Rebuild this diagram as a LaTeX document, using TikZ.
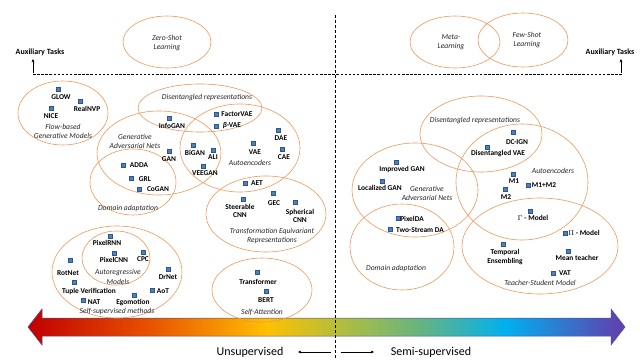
\documentclass[tikz,border=0pt]{standalone}
\usepackage{fontspec}
\setmainfont{Carlito}
\usetikzlibrary{arrows.meta}
\definecolor{ell}{RGB}{240,150,90}
\definecolor{sqf}{RGB}{79,129,189}
\definecolor{sqd}{RGB}{45,85,145}
\definecolor{ca}{RGB}{192,0,0}
\definecolor{cb}{RGB}{232,80,0}
\definecolor{cc}{RGB}{255,192,0}
\definecolor{cd}{RGB}{180,190,60}
\definecolor{ce}{RGB}{100,180,130}
\definecolor{cf}{RGB}{0,176,240}
\definecolor{cg}{RGB}{100,60,170}
\pgfdeclarehorizontalshading{rainbowbar}{100bp}{color(0bp)=(ca); color(25bp)=(ca); color(35bp)=(cb); color(45bp)=(cc); color(51bp)=(cd); color(58bp)=(ce); color(65bp)=(cf); color(75bp)=(cg); color(100bp)=(cg)}
\tikzset{
  grp/.style={draw=ell, line width=0.6pt},
  sq/.style={rectangle, draw=sqd, fill=sqf, line width=0.3pt, minimum size=4.6pt, inner sep=0pt},
  lbl/.style={font=\fontsize{7.4}{8.2}\selectfont\bfseries, inner sep=0pt, align=center},
  grpcap/.style={font=\fontsize{7.6}{9.2}\selectfont\itshape, inner sep=0pt, align=center, text=black!85},
  bigtxt/.style={font=\fontsize{12}{14}\selectfont, inner sep=0pt},
  auxtxt/.style={font=\fontsize{8}{9}\selectfont\bfseries, inner sep=0pt},
  dsh/.style={line width=0.6pt, dash pattern=on 2.5pt off 1.6pt},
  tip/.style={line width=0.45pt, -{Stealth[length=3.4pt,width=3pt]}},
}
\begin{document}
\begin{tikzpicture}[x=1pt,y=-1pt]
\useasboundingbox (0,0) rectangle (640,359);

% ---------- gradient arrow ----------
\shade[shading=rainbowbar, draw=black!60!blue!70, line width=0.5pt]
  (28,327) -- (42,309) -- (42,318) -- (611,318) -- (611,309) -- (625,327)
  -- (611,345) -- (611,336) -- (42,336) -- (42,345) -- cycle;

% ---------- dashed axes ----------
\coordinate (hl) at (33,74);
\coordinate (hr) at (622,74);
\draw[dsh] (hl) -- (hr);
\coordinate (vt) at (335,15);
\coordinate (vb) at (335,359);
\draw[line width=0.8pt, dash pattern=on 3pt off 2pt] (vt) -- (vb);

\node[auxtxt] (auxL) at (40,52) {Auxiliary Tasks};
\coordinate (auxLb) at (33,73);
\coordinate (auxLt) at (33,59);
\draw[tip] (auxLb) -- (auxLt);
\node[auxtxt] (auxR) at (610,52) {Auxiliary Tasks};
\coordinate (auxRb) at (621,73);
\coordinate (auxRt) at (621,59);
\draw[tip] (auxRb) -- (auxRt);

% ---------- top ellipses ----------
\draw[grp] (167,42) ellipse [x radius=44, y radius=26];
\node[grpcap] (zsl) at (167,43) {Zero-Shot\\Learning};
\draw[grp] (455,42) ellipse [x radius=45, y radius=26];
\draw[grp] (523,40) ellipse [x radius=45, y radius=27];
\node[grpcap] (meta) at (451,42) {Meta-\\Learning};
\node[grpcap] (fsl) at (527,40) {Few-Shot\\Learning};

% ---------- left: ellipses ----------
\draw[grp] (63,113) ellipse [x radius=45, y radius=32];
\draw[grp] (200,108) ellipse [x radius=62, y radius=24];
\draw[grp] (159,153) ellipse [x radius=62, y radius=42];
\draw[grp] (240,148) ellipse [x radius=60, y radius=44];
\draw[grp] (133,182) ellipse [x radius=43, y radius=33];
\draw[grp] (266,214) ellipse [x radius=60, y radius=38];
\draw[grp] (262,290) ellipse [x radius=50, y radius=32];
\draw[grp] (117,272) ellipse [x radius=65, y radius=46];
\draw[grp] (116,258) ellipse [x radius=34, y radius=27];

% ---------- left: captions ----------
\node[grpcap] (flowc) at (63,131) {Flow-based\\Generative Models};
\node[grpcap] (disl) at (207,98) {Disentangled representations};
\node[grpcap] (ganl) at (135,141) {Generative\\Adversarial Nets};
\node[grpcap] (ael) at (250,163) {Autoencoders};
\node[grpcap] (dal) at (128,208) {Domain adaptation};
\node[grpcap] (tel) at (272,236) {Transformation Equivariant\\Representations};
\node[grpcap] (sal) at (262,312) {Self-Attention};
\node[grpcap] (arl) at (118,277) {Autoregressive\\Models};
\node[grpcap] (ssl) at (117,311) {Self-supervised methods};

% ---------- left: methods ----------
\node[sq] (glows) at (58,89) {};      \node[lbl] (glow) at (61,97) {GLOW};
\node[sq] (nvps) at (80,101) {};      \node[lbl] (nvp) at (87,109) {RealNVP};
\node[sq] (nices) at (51,108) {};     \node[lbl] (nice) at (51,116) {NICE};

\node[sq] (infogans) at (169,118) {}; \node[lbl] (infogan) at (172,126) {InfoGAN};
\node[sq] (fvaes) at (216,114) {};    \node[lbl] (fvae) at (237,114) {FactorVAE};
\node[sq] (bvaes) at (216,126) {};    \node[lbl] (bvae) at (232,126) {\textit{β}-VAE};
\node[sq] (gans) at (169,151) {};     \node[lbl] (gan) at (169,159) {GAN};
\node[sq] (bigans) at (193,145) {};   \node[lbl] (bigan) at (195,153) {BiGAN};
\node[sq] (alis) at (213,150) {};     \node[lbl] (ali) at (213,157) {ALI};
\node[sq] (veegans) at (203,166) {};  \node[lbl] (veegan) at (205,173) {VEEGAN};
\node[sq] (vaes) at (253,143) {};     \node[lbl] (vae) at (255,152) {VAE};
\node[sq] (daes) at (278,130) {};     \node[lbl] (dae) at (281,138) {DAE};
\node[sq] (caes) at (282,149) {};     \node[lbl] (cae) at (284,157) {CAE};

\node[sq] (addas) at (123,165) {};    \node[lbl] (adda) at (139,165) {ADDA};
\node[sq] (grls) at (131,178) {};     \node[lbl] (grl) at (145,179) {GRL};
\node[sq] (cogans) at (139,189) {};   \node[lbl] (cogan) at (158,189) {CoGAN};

\node[sq] (aets) at (245,183) {};     \node[lbl] (aet) at (257,183) {AET};
\node[sq] (stees) at (243,199) {};    \node[lbl] (stee) at (240,211) {Steerable\\CNN};
\node[sq] (gecs) at (273,193) {};     \node[lbl] (gec) at (274,203) {GEC};
\node[sq] (sphs) at (295,202) {};     \node[lbl] (sph) at (300,216) {Spherical\\CNN};

\node[sq] (trs) at (257,272) {};      \node[lbl] (tr) at (258,282) {Transformer};
\node[sq] (berts) at (266,291) {};    \node[lbl] (bert) at (266,300) {BERT};

\node[sq] (prnns) at (110,236) {};    \node[lbl] (prnn) at (107,243) {PixelRNN};
\node[sq] (pcnns) at (114,253) {};    \node[lbl] (pcnn) at (114,260) {PixelCNN};
\node[sq] (cpcs) at (143,252) {};     \node[lbl] (cpc) at (143,259) {CPC};
\node[sq] (rots) at (70,260) {};      \node[lbl] (rot) at (68,273) {RotNet};
\node[sq] (drs) at (168,269) {};      \node[lbl] (dr) at (168,277) {DrNet};
\node[sq] (tuples) at (74,282) {};    \node[lbl] (tuple) at (89,291) {Tuple Verification};
\node[sq] (aots) at (152,290) {};     \node[lbl] (aot) at (163,291) {AoT};
\node[sq] (nats) at (83,300) {};      \node[lbl] (nat) at (94,302) {NAT};
\node[sq] (egos) at (134,295) {};     \node[lbl] (ego) at (133,303) {Egomotion};

% ---------- right: ellipses ----------
\draw[grp] (481,134) ellipse [x radius=61, y radius=38];
\draw[grp] (522,182) ellipse [x radius=66, y radius=58];
\draw[grp] (415,190) ellipse [x radius=63, y radius=47];
\draw[grp] (402,247) ellipse [x radius=52, y radius=43];
\draw[grp] (540,246) ellipse [x radius=78, y radius=48];

% ---------- right: captions ----------
\node[grpcap] (disr) at (475,121) {Disentangled representations};
\node[grpcap] (ganr) at (427,193) {Generative\\Adversarial Nets};
\node[grpcap] (aer) at (553,171) {Autoencoders};
\node[grpcap] (dar) at (396,268) {Domain adaptation};
\node[grpcap] (tsr) at (540,283) {Teacher-Student Model};

% ---------- right: methods ----------
\node[sq] (igans) at (396,162) {};    \node[lbl] (igan) at (402,169) {Improved GAN};
\node[sq] (lgans) at (382,181) {};    \node[lbl] (lgan) at (380,188) {Localized GAN};
\node[sq] (pdas) at (398,218) {};     \node[lbl] (pda) at (412,219) {PixelDA};
\node[sq] (tsdas) at (390,229) {};    \node[lbl] (tsda) at (420,230) {Two-Stream DA};
\node[sq] (dcigns) at (513,132) {};   \node[lbl] (dcign) at (517,142) {DC-IGN};
\node[sq] (dvaes) at (487,147) {};    \node[lbl] (dvae) at (498,154) {Disentangled VAE};
\node[sq] (m1s) at (513,174) {};      \node[lbl] (m1) at (514,181) {M1};
\node[sq] (m12s) at (528,185) {};     \node[lbl] (m12) at (544,185) {M1+M2};
\node[sq] (m2s) at (505,189) {};      \node[lbl] (m2) at (506,197) {M2};
\node[sq] (gms) at (530,211) {};      \node[lbl] (gm) at (533,218) {$\Gamma$ - Model};
\node[sq] (pms) at (565,233) {};      \node[lbl] (pm) at (584,233) {$\Pi$ - Model};
\node[sq] (tes) at (503,244) {};      \node[lbl] (te) at (505,257) {Temporal\\Ensembling};
\node[sq] (mts) at (568,251) {};      \node[lbl] (mt) at (577,258) {Mean teacher};
\node[sq] (vats) at (553,273) {};     \node[lbl] (vat) at (565,273) {VAT};

% ---------- bottom labels ----------
\node[bigtxt] (uns) at (250,352) {Unsupervised};
\node[bigtxt] (semi) at (431,352) {Semi-supervised};
\coordinate (la1) at (331,352);
\coordinate (la2) at (298,352);
\draw[tip] (la1) -- (la2);
\coordinate (ra1) at (341,352);
\coordinate (ra2) at (374,352);
\draw[tip] (ra1) -- (ra2);
\end{tikzpicture}
\end{document}
